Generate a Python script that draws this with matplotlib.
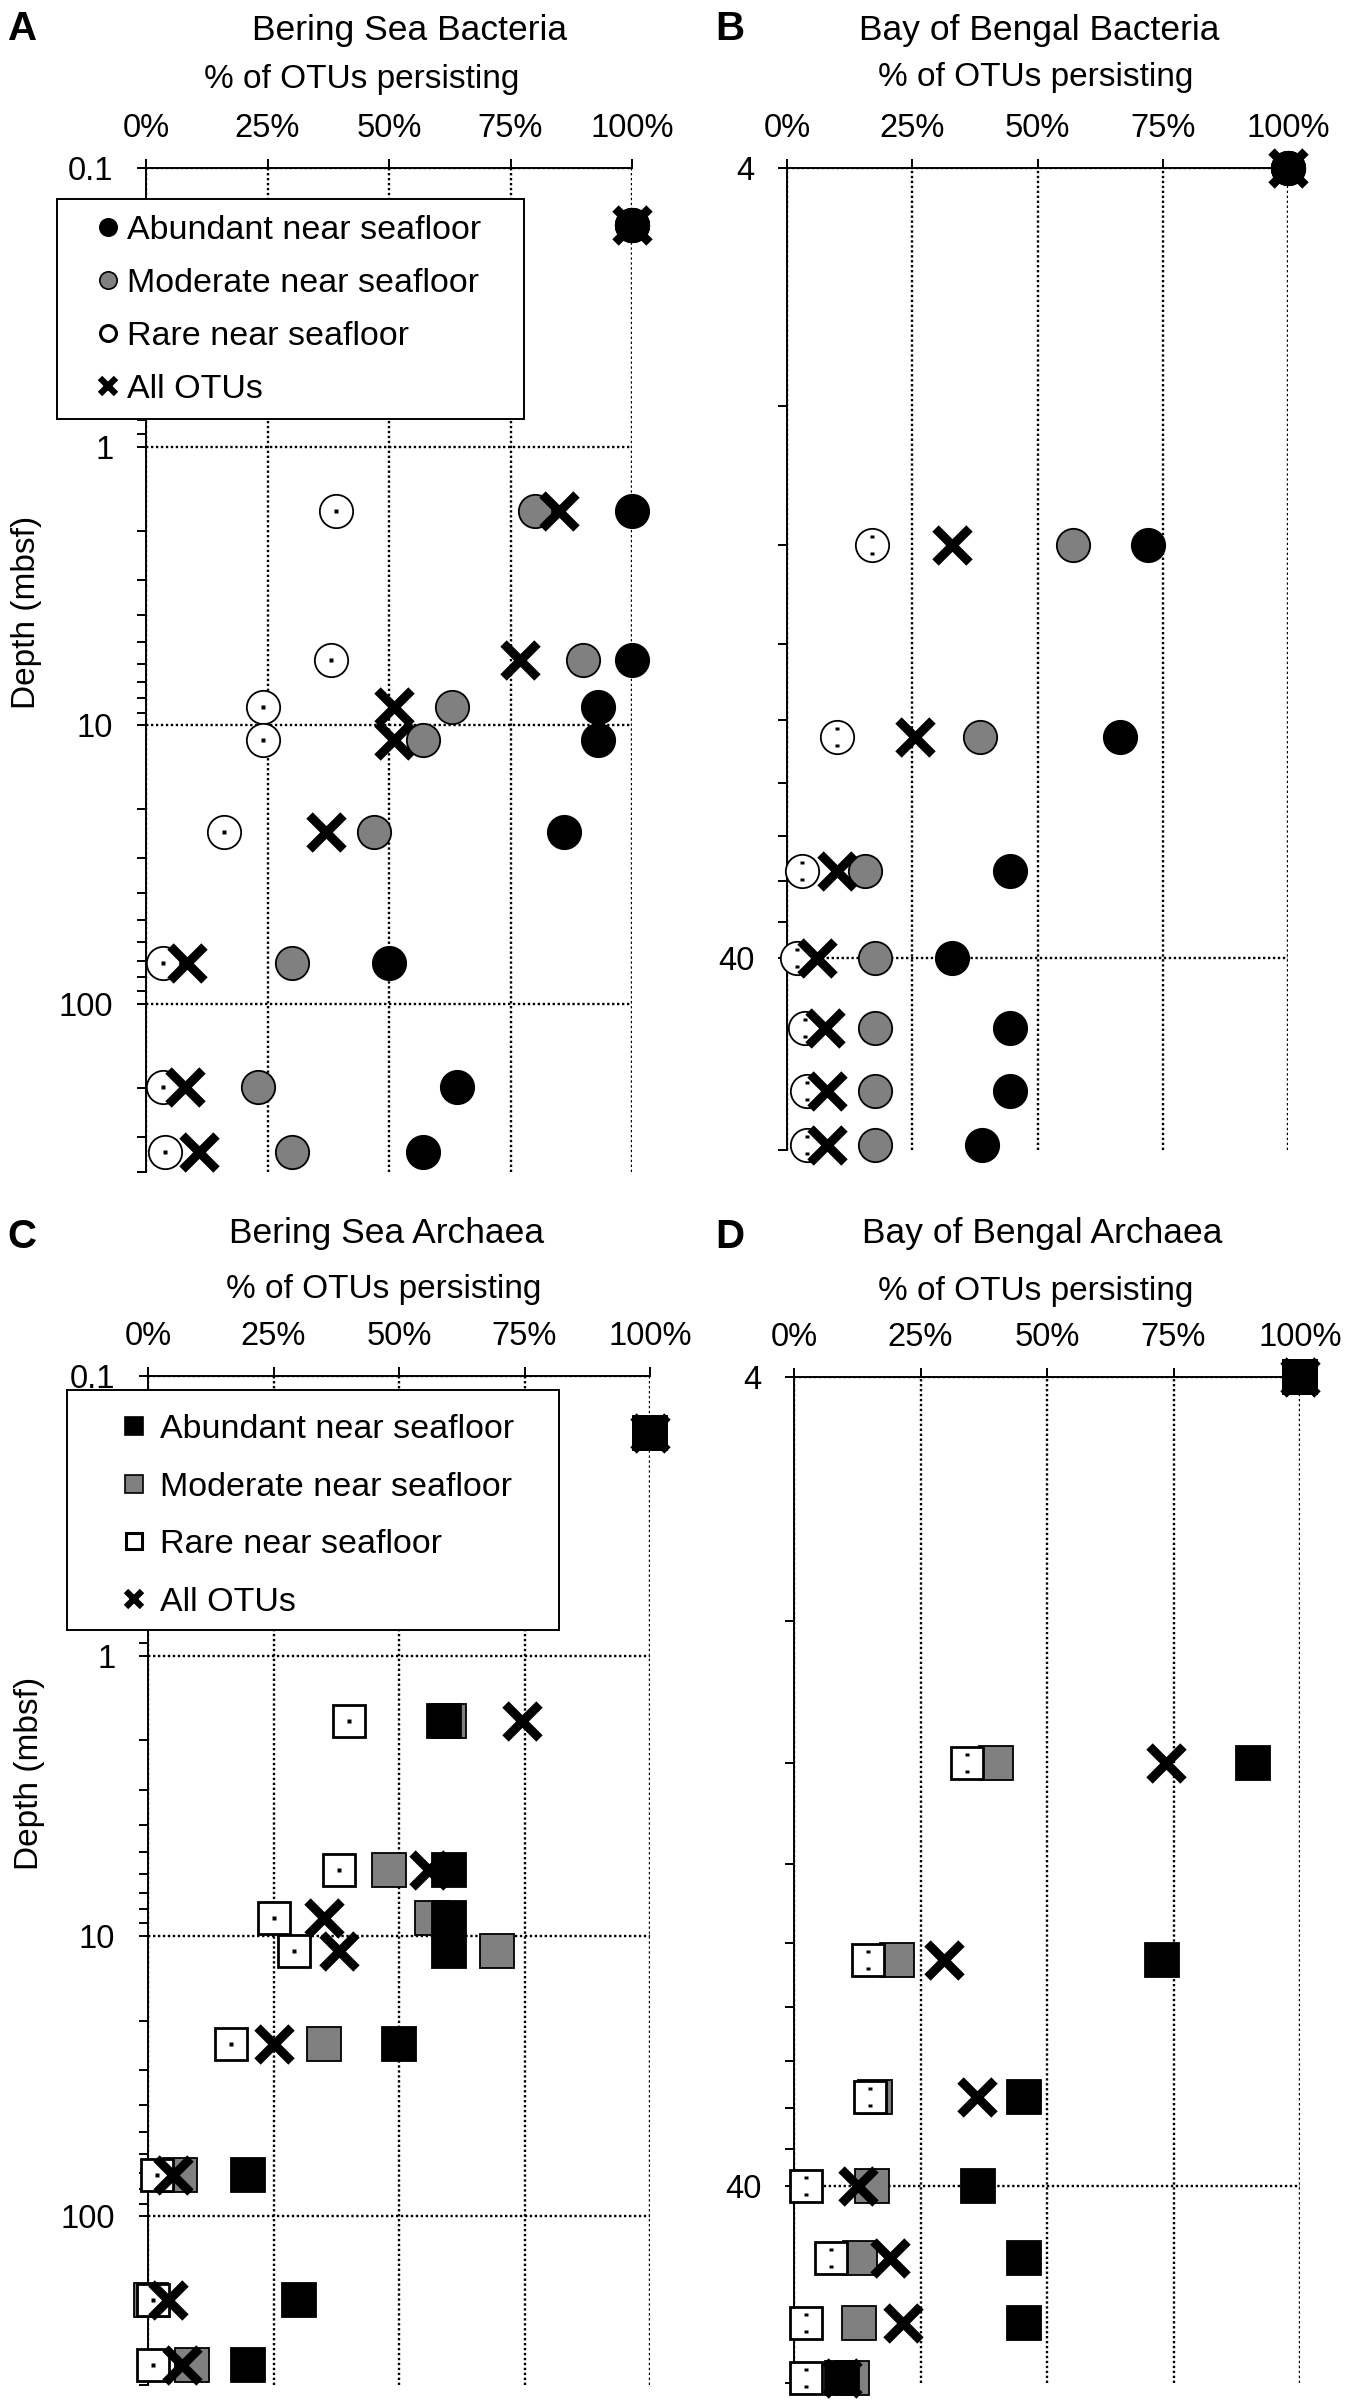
import numpy as np
import matplotlib
matplotlib.use('Agg')
import matplotlib.pyplot as plt
from matplotlib.lines import Line2D
from matplotlib.patches import Rectangle
from matplotlib.path import Path
import matplotlib.ticker as mticker

plt.rcParams['font.family'] = ['Liberation Sans', 'DejaVu Sans']

# ---------------- data ----------------
pct_ticks = [0, 25, 50, 75, 100]
pct_labels = ['0%', '25%', '50%', '75%', '100%']
series_labels = ['Abundant near seafloor', 'Moderate near seafloor', 'Rare near seafloor', 'All OTUs']

bering_depth = [0.16, 1.7, 5.8, 8.6, 11.3, 24.2, 71, 199, 338]
bering_ticks = [0.1, 1, 10, 100]
bering_ticklabels = ['0.1', '1', '10', '100']

bering_bac_abundant = [100, 100, 100, 93, 93, 86, 50, 64, 57]
bering_bac_moderate = [100, 80, 90, 63, 57, 47, 30, 23, 30]
bering_bac_rare = [100, 39, 38, 24, 24, 16, 3.5, 3.5, 4]
bering_bac_all = [100, 85, 77, 51, 51, 37, 8.5, 8, 11]

bering_arc_abundant = [100, 59, 60, 60, 60, 50, 20, 30, 20]
bering_arc_moderate = [100, 60, 48, 56.5, 69.5, 35, 6.3, 0.5, 8.8]
bering_arc_rare = [100, 40, 38, 25, 29, 16.5, 1.8, 1, 1]
bering_arc_all = [100, 74.5, 56, 35, 38, 25, 5, 4, 6.7]

bengal_depth = [4, 12, 21, 31, 40, 49, 59, 69]
bengal_ticks = [4, 40]
bengal_ticklabels = ['4', '40']

bengal_bac_abundant = [100, 72, 66.5, 44.5, 33, 44.5, 44.5, 39]
bengal_bac_moderate = [100, 57, 38.5, 15.5, 17.5, 17.5, 17.5, 17.5]
bengal_bac_rare = [100, 17, 10, 3, 2, 3.5, 4, 4]
bengal_bac_all = [100, 33, 25.5, 10, 6, 7.5, 8, 8]

bengal_arc_abundant = [100, 90.7, 72.7, 45.5, 36.4, 45.5, 45.5, 9.5]
bengal_arc_moderate = [100, 40, 20.4, 16, 15.4, 13.1, 12.8, 11.5]
bengal_arc_rare = [100, 34.2, 14.6, 15, 2.4, 7.4, 2.4, 2.4]
bengal_arc_all = [100, 73.5, 29.6, 36.2, 12.7, 19, 21.6, 9.5]

# ---------------- layout helpers ----------------
W, H = 1350, 2404
fig = plt.figure(figsize=(W / 100, H / 100), dpi=100)


def fx(x):
    return x / W


def fy(y):
    return 1 - y / H


def add_axes_px(left, right, top, bottom):
    return fig.add_axes([fx(left), fy(bottom), (right - left) / W, (bottom - top) / H])


# two-dot marker (':') used for rare markers of the Bay of Bengal panels
d = 0.17
verts, codes = [], []
for cy in (1, -1):
    verts += [(-d, cy - d), (d, cy - d), (d, cy + d), (-d, cy + d), (-d, cy - d)]
    codes += [Path.MOVETO, Path.LINETO, Path.LINETO, Path.LINETO, Path.CLOSEPOLY]
colon_marker = Path(verts, codes)

GRAY = '#808080'


def style_axes(ax, ylo, yhi, major, major_labels, minor):
    ax.set_yscale('log')
    ax.set_xlim(0, 100)
    ax.set_ylim(yhi, ylo)
    ax.xaxis.tick_top()
    ax.set_xticks(pct_ticks)
    ax.set_xticklabels(pct_labels)
    ax.yaxis.set_major_locator(mticker.FixedLocator(major))
    ax.yaxis.set_major_formatter(mticker.FixedFormatter(major_labels))
    ax.yaxis.set_minor_locator(mticker.FixedLocator(minor))
    ax.yaxis.set_minor_formatter(mticker.NullFormatter())
    for s in ['right', 'bottom']:
        ax.spines[s].set_visible(False)
    for s in ['top', 'left']:
        ax.spines[s].set_linewidth(1.4)
    ax.tick_params(axis='x', which='both', direction='out', length=6.5, width=1.4,
                   pad=10.8, labelsize=23.5, top=True, bottom=False)
    ax.tick_params(axis='y', which='both', direction='out', length=6.5, width=1.4,
                   pad=17, labelsize=23.5)
    ax.grid(True, which='major', linestyle=(0, (1, 1.1)), color='black', linewidth=1.7)
    ax.set_axisbelow(True)


def draw_points(ax, depth, abundant, moderate, rare, allotu, shape, colon):
    ms = 24
    ax.plot(moderate, depth, linestyle='none', marker=shape, ms=ms, mfc=GRAY, mec='black',
            mew=1.3, clip_on=False, zorder=3)
    ax.plot(rare, depth, linestyle='none', marker=shape, ms=ms - (1 if shape == 's' else 0),
            mfc='white', mec='black', mew=(2.0 if shape == 's' else 1.3), clip_on=False, zorder=3.1)
    if colon:
        ax.plot(rare, depth, linestyle='none', marker=colon_marker, ms=15, mfc='black',
                mec='none', clip_on=False, zorder=3.2)
    else:
        ax.plot(rare, depth, linestyle='none', marker='s', ms=2.2, mfc='black',
                mec='none', clip_on=False, zorder=3.2)
    ax.plot(abundant, depth, linestyle='none', marker=shape, ms=ms, mfc='black', mec='black',
            mew=1.3, clip_on=False, zorder=3.3)
    ax.plot(allotu, depth, linestyle='none', marker='x', ms=25, mec='black', mew=6.5,
            clip_on=False, zorder=3.4)


bering_minor = [m * 10.0 ** e for e in (-1, 0, 1) for m in range(2, 10)] + [200, 300, 400]
bengal_minor = [8, 12, 16, 20, 24, 28, 32, 36, 70]

axA = add_axes_px(146, 632, 168, 1172)
axB = add_axes_px(787, 1288, 168, 1150)
axC = add_axes_px(148, 650, 1376, 2385)
axD = add_axes_px(794, 1300, 1377, 2383)

style_axes(axA, 0.1, 400, bering_ticks, bering_ticklabels, bering_minor)
style_axes(axC, 0.1, 400, bering_ticks, bering_ticklabels, bering_minor)
style_axes(axB, 4, 70, bengal_ticks, bengal_ticklabels, bengal_minor)
style_axes(axD, 4, 70, bengal_ticks, bengal_ticklabels, bengal_minor)

draw_points(axA, bering_depth, bering_bac_abundant, bering_bac_moderate, bering_bac_rare,
            bering_bac_all, 'o', False)
draw_points(axB, bengal_depth, bengal_bac_abundant, bengal_bac_moderate, bengal_bac_rare,
            bengal_bac_all, 'o', True)
draw_points(axC, bering_depth, bering_arc_abundant, bering_arc_moderate, bering_arc_rare,
            bering_arc_all, 's', False)
draw_points(axD, bengal_depth, bengal_arc_abundant, bengal_arc_moderate, bengal_arc_rare,
            bengal_arc_all, 's', True)


# ---------------- legends ----------------
def add_legend(ax, shape, box, anchor, spacing, textpad):
    x0, y0, x1, y1 = box
    rect = Rectangle((fx(x0), fy(y1)), (x1 - x0) / W, (y1 - y0) / H, transform=fig.transFigure,
                     facecolor='white', edgecolor='black', linewidth=1.4, zorder=6, clip_on=False)
    ax.add_artist(rect)
    hms = 12.5
    handles = [
        Line2D([], [], linestyle='none', marker=shape, ms=hms, mfc='black', mec='black', mew=1.2),
        Line2D([], [], linestyle='none', marker=shape, ms=hms, mfc=GRAY, mec='black', mew=1.2),
        Line2D([], [], linestyle='none', marker=shape, ms=hms - 1, mfc='white', mec='black', mew=2.2),
        Line2D([], [], linestyle='none', marker='x', ms=11, mec='black', mew=4.5),
    ]
    leg = ax.legend(handles, series_labels, loc='upper left',
                    bbox_to_anchor=(fx(anchor[0]), fy(anchor[1])), bbox_transform=fig.transFigure,
                    frameon=False, fontsize=24.5, borderpad=0, borderaxespad=0,
                    handlelength=1.0, handletextpad=textpad, labelspacing=spacing)
    leg.set_zorder(7)


add_legend(axA, 'o', (57, 199, 524, 419), (91, 215), 0.65, 0.05)
add_legend(axC, 's', (67, 1390, 559, 1630), (117, 1414), 0.78, 0.25)

# ---------------- texts ----------------
def ftext(x, y, s, size, ha='center', weight='normal', rot=0, va='baseline'):
    fig.text(fx(x), fy(y), s, fontsize=size, ha=ha, va=va, fontweight=weight, rotation=rot)


ftext(8, 40, 'A', 29, ha='left', weight='bold')
ftext(715, 40, 'B', 29, ha='left', weight='bold')
ftext(7, 1248, 'C', 29, ha='left', weight='bold')
ftext(715, 1248, 'D', 29, ha='left', weight='bold')

ftext(410, 40, 'Bering Sea Bacteria', 25.5)
ftext(1039, 40, 'Bay of Bengal Bacteria', 25.5)
ftext(387, 1243, 'Bering Sea Archaea', 25.5)
ftext(1042, 1243, 'Bay of Bengal Archaea', 25.5)

ftext(362, 88, '% of OTUs persisting', 24)
ftext(1036, 86, '% of OTUs persisting', 24)
ftext(384, 1298, '% of OTUs persisting', 24)
ftext(1036, 1300, '% of OTUs persisting', 24)

ftext(26, 612, 'Depth (mbsf)', 24, rot=90, va='center')
ftext(30, 1773, 'Depth (mbsf)', 24, rot=90, va='center')

fig.savefig('out.png', dpi=100)
